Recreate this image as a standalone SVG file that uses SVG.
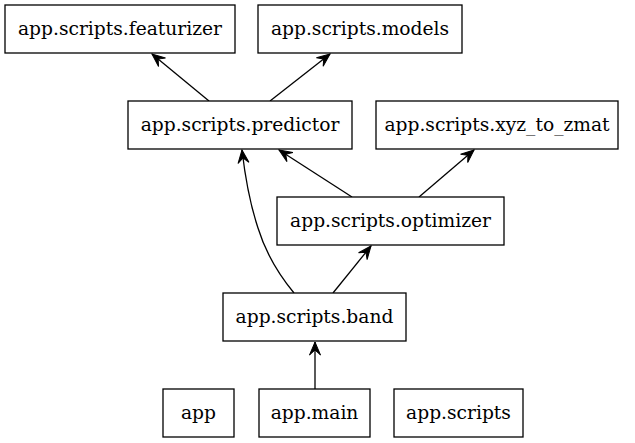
<svg xmlns="http://www.w3.org/2000/svg" width="635" height="443" viewBox="0 0 635 443">
<style>
.node rect{fill:#fff;stroke:#000;stroke-width:1.3}
.node text{font-family:"DejaVu Serif",serif;font-size:18.67px;text-anchor:middle;fill:#000}
.edge{fill:none;stroke:#000;stroke-width:1.3;marker-end:url(#vee)}
</style>
<defs>
<marker id="vee" markerUnits="userSpaceOnUse" orient="auto" markerWidth="16" markerHeight="14" refX="0" refY="0" viewBox="-14 -7 16 14" overflow="visible">
<path d="M0,0 L-13,-5.5 L-8,0 L-13,5.5 Z" fill="#000" stroke="#000" stroke-width="1"/>
</marker>
</defs>
<rect width="635" height="443" fill="#fff"/>
<g id="connectors">
<path class="edge" d="M209,101 L152,54"/>
<path class="edge" d="M270,101 L330,54"/>
<path class="edge" d="M352,197 L279,150"/>
<path class="edge" d="M419,197 L474,150"/>
<path class="edge" d="M294,293 C280,276 266,254 258,228 C249,201 245,176 242,150"/>
<path class="edge" d="M333,293 L371,246"/>
<path class="edge" d="M315,389 L315,342"/>
</g>
<g id="featurizer" class="node"><rect x="5" y="5" width="230" height="48"/><text x="120" y="35">app.scripts.featurizer</text></g>
<g id="models" class="node"><rect x="258" y="5" width="204" height="48"/><text x="360" y="35">app.scripts.models</text></g>
<g id="predictor" class="node"><rect x="128" y="101" width="224" height="48"/><text x="240" y="131">app.scripts.predictor</text></g>
<g id="xyz_to_zmat" class="node"><rect x="376" y="101" width="242" height="48"/><text x="497" y="131">app.scripts.xyz_to_zmat</text></g>
<g id="optimizer" class="node"><rect x="277" y="197" width="227" height="48"/><text x="390.5" y="227">app.scripts.optimizer</text></g>
<g id="band" class="node"><rect x="223" y="293" width="183" height="48"/><text x="314.5" y="323">app.scripts.band</text></g>
<g id="app" class="node"><rect x="163" y="389" width="71" height="48"/><text x="198.5" y="419">app</text></g>
<g id="main" class="node"><rect x="259" y="389" width="111" height="48"/><text x="314.5" y="419">app.main</text></g>
<g id="scripts" class="node"><rect x="394" y="389" width="129" height="48"/><text x="458.5" y="419">app.scripts</text></g>
</svg>
